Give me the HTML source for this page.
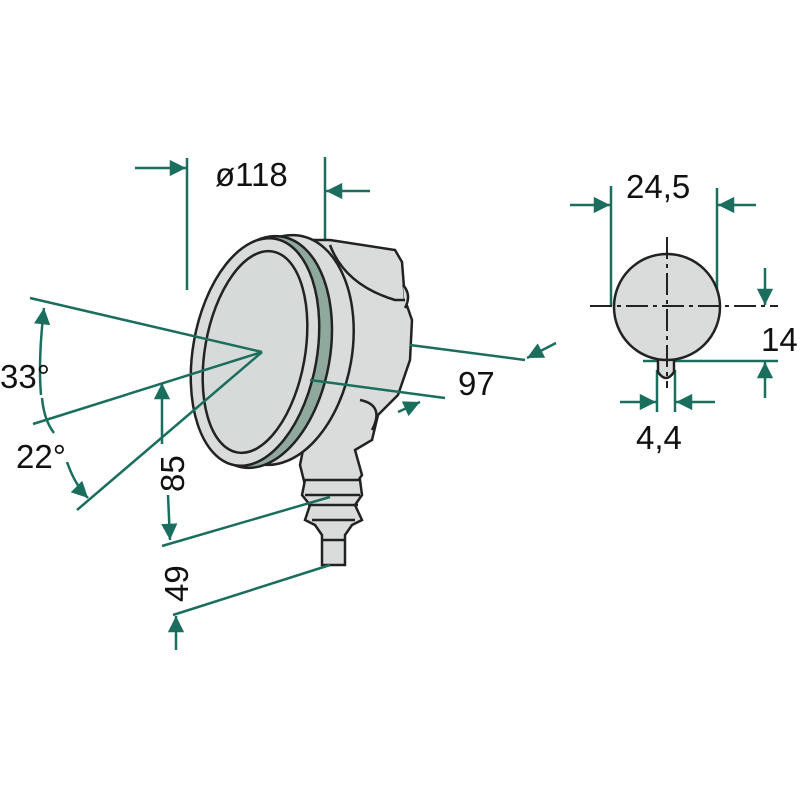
<!DOCTYPE html>
<html><head><style>body{margin:0;background:#fff}svg{display:block}</style></head><body>
<svg width="800" height="800" viewBox="0 0 800 800" xmlns="http://www.w3.org/2000/svg">
<defs>
<marker id="a" viewBox="0 0 10 10" refX="10" refY="5" markerWidth="7" markerHeight="6.5" orient="auto-start-reverse" markerUnits="strokeWidth"><path d="M0,0 L10,5 L0,10 z" fill="#1b6e5e"/></marker>
</defs>
<g fill="none" stroke="#1b6e5e" stroke-width="2.5">
<line x1="187" y1="158" x2="187" y2="290"/>
<line x1="135" y1="168" x2="186" y2="168" marker-end="url(#a)"/>
<line x1="325" y1="157" x2="325" y2="242"/>
<line x1="370" y1="191" x2="326" y2="191" marker-end="url(#a)"/>
</g>
<g stroke="#222" stroke-width="2.5" fill="#d9dcda">
<path d="M300,240 L330,240 L395,250 L402,262 L405,300 L412,320 L410,360 L398,395 L378,415 L372,440 L355,450 L362,475 L355,485 L305,485 L300,465 L305,440 L280,420 Z"/>
<path d="M305,480 L360,480 L362,495 L355,505 L362,520 L352,525 L345,535 L345,565 L322,565 L322,535 L315,525 L305,520 L310,505 L302,495 Z"/>
<line x1="305" y1="495" x2="360" y2="495"/><line x1="308" y1="505" x2="358" y2="505"/><line x1="312" y1="520" x2="355" y2="520"/><line x1="322" y1="540" x2="345" y2="540"/>
<path d="M360,400 Q385,405 372,430" fill="#d9dcda"/>
<path d="M403,285 Q412,295 405,308" fill="#d9dcda"/>
<path d="M330,245 Q345,285 395,300 L405,300" fill="none"/>
<ellipse cx="280" cy="350" rx="72" ry="116" transform="rotate(10 280 350)"/>
<ellipse cx="262" cy="352" rx="68" ry="117" transform="rotate(10 262 352)" fill="#8fa99f"/>
<ellipse cx="255" cy="352" rx="62" ry="115" transform="rotate(10 255 352)"/>
<ellipse cx="255" cy="352" rx="50" ry="102" transform="rotate(10 255 352)" fill="#d6dad8"/>
</g>
<g fill="none" stroke="#1b6e5e" stroke-width="2.5">
<line x1="30" y1="298" x2="262" y2="352"/>
<line x1="33" y1="424" x2="262" y2="352"/>
<line x1="77" y1="510" x2="262" y2="352"/>
<path d="M41,395 Q38,360 44,308" marker-end="url(#a)"/>
<path d="M42,398 Q44,420 54,433"/>
<path d="M67,462 Q75,485 88,498" marker-end="url(#a)"/>
<line x1="162" y1="444" x2="162" y2="383" marker-end="url(#a)"/>
<line x1="168" y1="495" x2="170" y2="540" marker-end="url(#a)"/>
<line x1="162" y1="546" x2="330" y2="497"/>
<line x1="173" y1="615" x2="330" y2="565"/>
<line x1="176" y1="650" x2="176" y2="616" marker-end="url(#a)"/>
<line x1="410" y1="345" x2="525" y2="360"/>
<line x1="556" y1="343" x2="527" y2="358" marker-end="url(#a)"/>
<line x1="310" y1="380" x2="445" y2="398"/>
<line x1="398" y1="412" x2="420" y2="402" marker-end="url(#a)"/>
<line x1="611" y1="186" x2="611" y2="306"/>
<line x1="717" y1="188" x2="717" y2="306"/>
<line x1="570" y1="205" x2="610" y2="205" marker-end="url(#a)"/>
<line x1="756" y1="205" x2="718" y2="205" marker-end="url(#a)"/>
<line x1="643" y1="361" x2="778" y2="361"/>
<line x1="765" y1="268" x2="765" y2="305" marker-end="url(#a)"/>
<line x1="765" y1="398" x2="765" y2="362" marker-end="url(#a)"/>
<line x1="657" y1="370" x2="657" y2="412"/>
<line x1="675" y1="370" x2="675" y2="412"/>
<line x1="620" y1="402" x2="656" y2="402" marker-end="url(#a)"/>
<line x1="715" y1="402" x2="676" y2="402" marker-end="url(#a)"/>
</g>
<g stroke="#222" stroke-width="2.5" fill="#d9dcda">
<path d="M658,360 L658,372 Q666,384 674,372 L674,360"/>
<circle cx="667" cy="307" r="53"/>
</g>
<g stroke="#222" stroke-width="2">
<line x1="590" y1="306" x2="778" y2="306" stroke-dasharray="22,5,4,5"/>
<line x1="667" y1="237" x2="667" y2="388" stroke-dasharray="22,5,4,5"/>
</g>
<g font-family="Liberation Sans, sans-serif" font-size="33" fill="#111">
<text x="215" y="186">ø118</text>
<text x="626" y="198">24,5</text>
<text x="761" y="351">14</text>
<text x="636" y="449">4,4</text>
<text x="458" y="395">97</text>
<text x="0" y="388">33°</text>
<text x="16" y="468">22°</text>
<text transform="translate(184,492) rotate(-90)">85</text>
<text transform="translate(188,602) rotate(-90)">49</text>
</g>
</svg>
</body></html>
